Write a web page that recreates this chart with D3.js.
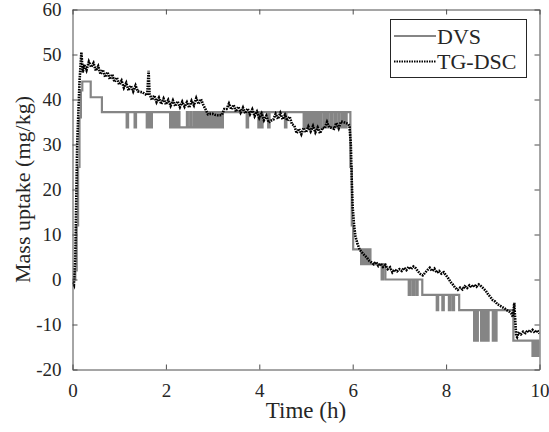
<!DOCTYPE html>
<html lang="en">
<head>
    <meta charset="utf-8">
    <script src='https://d3js.org/d3.v7.min.js'></script>
</head>
<style>
body { margin: 0; background: #fff; }
text { font-family: "Liberation Serif", serif; fill: #262626; }
</style>
<body>
<script>
// Chart size and plot box
const width = 549, height = 432;
const plot = {left: 72.5, right: 539.5, top: 9.5, bottom: 369.5};

// Tick values
const xTicks = [0, 2, 4, 6, 8, 10];
const yTicks = [-20, -10, 0, 10, 20, 30, 40, 50, 60];

// DVS (step series): change times (h) and mass uptake (mg/kg)
const dvsTime = [0, 0.06, 0.09, 0.12, 0.15, 0.18, 0.21, 0.39, 0.63,
  1.16, 1.19, 1.33, 1.36,
  1.59, 1.61, 1.62, 1.64, 1.65, 1.67, 1.68, 1.70,
  2.09, 2.11, 2.13, 2.15, 2.17, 2.19, 2.21, 2.23, 2.25, 2.27, 2.29,
  2.45, 2.47, 2.52, 2.55, 2.60, 2.62, 2.66, 2.68, 2.72, 2.74, 2.78, 2.80, 2.83, 2.85,
  2.88, 2.90, 2.93, 2.95, 2.98, 3.00, 3.04, 3.06, 3.10, 3.12, 3.16, 3.18, 3.22,
  3.73, 3.76, 3.98, 4.00, 4.03, 4.07, 4.19, 4.22, 4.55, 4.58,
  4.95, 4.98, 5.02, 5.05, 5.09, 5.12, 5.16, 5.19, 5.23, 5.26, 5.30, 5.33, 5.38, 5.41,
  5.45, 5.48, 5.53, 5.56, 5.61, 5.64, 5.69, 5.72, 5.77, 5.80, 5.84, 5.87,
  5.95, 5.98, 6.01,
  6.18, 6.21, 6.25, 6.28, 6.31, 6.34, 6.38, 6.62, 6.65, 6.70,
  7.20, 7.23, 7.28, 7.31, 7.36, 7.39, 7.49,
  7.80, 7.83, 7.92, 7.95, 8.06, 8.09, 8.14, 8.17, 8.28,
  8.60, 8.63, 8.66, 8.68, 8.75, 8.78, 8.81, 8.84, 8.88, 8.91, 9.00, 9.03, 9.05, 9.08,
  9.44, 9.85, 9.87, 9.90, 9.92, 9.96, 9.98, 10];
const dvsMass = [0, 2, 12, 25, 36, 42, 44, 40.5, 37.2,
  33.8, 37.2, 33.8, 37.2,
  33.8, 37.2, 33.8, 37.2, 33.8, 37.2, 33.8, 37.2,
  33.8, 37.2, 33.8, 37.2, 33.8, 37.2, 33.8, 37.2, 33.8, 37.2, 33.8,
  37.2, 33.8, 37.2, 33.8, 37.2, 33.8, 37.2, 33.8, 37.2, 33.8, 37.2, 33.8, 37.2, 33.8,
  37.2, 33.8, 37.2, 33.8, 37.2, 33.8, 37.2, 33.8, 37.2, 33.8, 37.2, 33.8, 37.2,
  33.8, 37.2, 33.8, 37.2, 33.8, 37.2, 33.8, 37.2, 33.8, 37.2,
  33.8, 37.2, 33.8, 37.2, 33.8, 37.2, 33.8, 37.2, 33.8, 37.2, 33.8, 37.2, 33.8, 37.2,
  33.8, 37.2, 33.8, 37.2, 33.8, 37.2, 33.8, 37.2, 33.8, 37.2, 33.8, 37.2,
  25, 12, 6.7,
  3.4, 6.7, 3.4, 6.7, 3.4, 6.7, 3.4, 0, 3.4, 0,
  -3.4, 0, -3.4, 0, -3.4, 0, -3.4,
  -6.8, -3.4, -6.8, -3.4, -6.8, -3.4, -6.8, -3.4, -6.8,
  -13.6, -6.8, -13.6, -6.8, -13.6, -6.8, -13.6, -6.8, -13.6, -6.8, -13.6, -6.8, -13.6, -6.8,
  -13.6, -17, -13.6, -17, -13.6, -17, -13.6, -13.6];

// TG-DSC: time (h) and mass uptake (mg/kg)
const tgTime = [0.00, 0.03, 0.06, 0.10, 0.15, 0.19, 0.22, 0.25, 0.30, 0.35, 0.40, 0.45, 0.50, 0.55,
  0.60, 0.65, 0.70, 0.75, 0.80, 0.85, 0.90, 0.95, 1.00, 1.05, 1.10, 1.15, 1.20, 1.25, 1.30,
  1.35, 1.40, 1.45, 1.50, 1.55, 1.60, 1.63, 1.65, 1.70, 1.75, 1.80, 1.85, 1.90, 1.95, 2.00,
  2.05, 2.10, 2.15, 2.20, 2.25, 2.30, 2.35, 2.40, 2.45, 2.50, 2.55, 2.60, 2.65, 2.70, 2.75,
  2.80, 2.85, 2.90, 2.95, 3.00, 3.05, 3.10, 3.15, 3.20, 3.25, 3.30, 3.35, 3.40, 3.45, 3.50,
  3.55, 3.60, 3.65, 3.70, 3.75, 3.80, 3.85, 3.90, 3.95, 4.00, 4.05, 4.10, 4.15, 4.20, 4.25,
  4.30, 4.35, 4.40, 4.45, 4.50, 4.55, 4.60, 4.65, 4.70, 4.75, 4.80, 4.85, 4.90, 4.95, 5.00,
  5.05, 5.10, 5.15, 5.20, 5.25, 5.30, 5.35, 5.40, 5.45, 5.50, 5.55, 5.60, 5.65, 5.70, 5.75,
  5.80, 5.85, 5.90, 5.93, 5.96, 5.98, 6.00, 6.03, 6.06, 6.10, 6.15, 6.20, 6.25, 6.30, 6.35,
  6.40, 6.45, 6.50, 6.55, 6.60, 6.65, 6.70, 6.75, 6.80, 6.85, 6.90, 6.95, 7.00, 7.05, 7.10,
  7.15, 7.20, 7.25, 7.30, 7.35, 7.40, 7.45, 7.50, 7.55, 7.60, 7.65, 7.70, 7.75, 7.80, 7.85,
  7.90, 7.95, 8.00, 8.05, 8.10, 8.15, 8.20, 8.25, 8.30, 8.35, 8.40, 8.45, 8.50, 8.55, 8.60,
  8.65, 8.70, 8.75, 8.80, 8.85, 8.90, 8.95, 9.00, 9.05, 9.10, 9.15, 9.20, 9.25, 9.30, 9.35,
  9.40, 9.43, 9.46, 9.48, 9.50, 9.52, 9.55, 9.60, 9.65, 9.70, 9.75, 9.80, 9.85, 9.90, 9.95, 10.00];
const tgMass = [-0.6, -1.2, 5, 30, 44, 50.5, 46, 47.8, 46.5, 48.4, 47.2, 48.1, 46.4, 47.4,
  45.6, 46.6, 45.0, 46.1, 44.5, 45.6, 43.9, 44.9, 43.3, 44.2, 42.6, 43.7, 42.0, 43.1, 41.8,
  43.1, 41.8, 41.7, 41.6, 41.2, 41.0, 46.4, 41.3, 39.9, 40.9, 39.4, 40.4, 39.0, 40.2, 38.9,
  39.9, 38.6, 39.8, 38.5, 39.6, 38.3, 39.5, 38.4, 39.4, 38.2, 39.7, 38.7, 40.3, 39.0, 40.1,
  38.8, 37.8, 36.7, 36.8, 36.8, 36.6, 36.5, 36.5, 36.6, 37.9, 37.9, 39.1, 37.8, 38.8, 37.3,
  38.4, 37.1, 38.2, 36.9, 38.0, 36.7, 37.8, 36.3, 37.3, 35.9, 36.9, 35.4, 36.4, 34.9, 35.3,
  35.5, 36.8, 35.7, 37.0, 35.6, 36.6, 35.3, 36.2, 34.5, 34.2, 32.5, 33.5, 32.3, 33.7, 32.7,
  34.0, 32.9, 34.1, 32.7, 33.8, 32.5, 33.7, 33.6, 35.0, 33.8, 33.7, 33.5, 34.8, 33.6, 35.1,
  35.0, 34.8, 34.6, 34.2, 30, 22, 16, 12, 9.5, 8, 6.6, 6.0, 5.4, 4.9, 4.2,
  3.8, 3.4, 3.9, 3.0, 3.5, 2.8, 3.2, 2.3, 2.7, 1.6, 2.2, 1.8, 2.3, 1.9, 2.6,
  2.1, 2.8, 2.3, 2.9, 2.5, 1.8, 1.2, 0.9, 1.5, 2.1, 2.6, 1.9, 2.4, 1.5, 1.9,
  1.3, 1.6, 0.9, 0.2, -0.6, -1.2, -1.9, -2.3, -1.8, -2.2, -1.5, -1.9, -1.3, -1.7, -1.2,
  -1.6, -1.1, -1.5, -2.0, -2.5, -3.3, -3.9, -4.6, -4.9, -5.5, -5.8, -6.1, -6.4, -6.8, -7.1,
  -7.6, -8.3, -5.2, -9, -12.5, -12.8, -11.9, -12.2, -11.6, -11.9, -11.3, -11.7, -11.2, -11.8, -11.3, -12.0];

// Legend entries
const legendNames = ["DVS", "TG-DSC"];

const svg = d3.select("body")
  .append("svg")
  .attr("width", width)
  .attr("height", height);

svg.append("rect").attr("width", width).attr("height", height).attr("fill", "#fff");

const x = d3.scaleLinear().domain([0, 10]).range([plot.left, plot.right]);
const y = d3.scaleLinear().domain([-20, 60]).range([plot.bottom, plot.top]);

svg.append("clipPath").attr("id", "clip")
  .append("rect")
  .attr("x", plot.left).attr("y", plot.top)
  .attr("width", plot.right - plot.left).attr("height", plot.bottom - plot.top);

// Data lines
const dvs = dvsTime.map((t, i) => [t, dvsMass[i]]);
const tg = tgTime.map((t, i) => [t, tgMass[i]]);

svg.append("path")
  .datum(dvs)
  .attr("clip-path", "url(#clip)")
  .attr("fill", "none")
  .attr("stroke", "#858585")
  .attr("stroke-width", 2.2)
  .attr("d", d3.line().curve(d3.curveStepAfter).x(d => x(d[0])).y(d => y(d[1])));

svg.append("path")
  .datum(tg)
  .attr("clip-path", "url(#clip)")
  .attr("fill", "none")
  .attr("stroke", "#000")
  .attr("stroke-width", 2.6)
  .attr("stroke-dasharray", "1.6,1")
  .attr("d", d3.line().x(d => x(d[0])).y(d => y(d[1])));

// Axes, MATLAB box style with inward ticks
const axisColor = "#4d4d4d";
const tickLen = 5;
const fmt = d => String(d);

const bottomAxis = svg.append("g")
  .attr("transform", `translate(0,${plot.bottom})`)
  .call(d3.axisBottom(x).tickValues(xTicks).tickFormat(fmt).tickSizeInner(-tickLen).tickSizeOuter(0).tickPadding(17));
const topAxis = svg.append("g")
  .attr("transform", `translate(0,${plot.top})`)
  .call(d3.axisTop(x).tickValues(xTicks).tickSizeInner(-tickLen).tickSizeOuter(0).tickFormat(""));
const leftAxis = svg.append("g")
  .attr("transform", `translate(${plot.left},0)`)
  .call(d3.axisLeft(y).tickValues(yTicks).tickFormat(fmt).tickSizeInner(-tickLen).tickSizeOuter(0).tickPadding(14));
const rightAxis = svg.append("g")
  .attr("transform", `translate(${plot.right},0)`)
  .call(d3.axisRight(y).tickValues(yTicks).tickSizeInner(-tickLen).tickSizeOuter(0).tickFormat(""));

[bottomAxis, topAxis, leftAxis, rightAxis].forEach(g => {
  g.select(".domain").attr("stroke", axisColor);
  g.selectAll(".tick line").attr("stroke", axisColor);
  g.selectAll(".tick text")
    .attr("fill", "#262626")
    .style("font-family", "'Liberation Serif', serif")
    .style("font-size", "19px");
});
bottomAxis.selectAll(".tick text").attr("dy", "0.55em");
leftAxis.selectAll(".tick text").attr("dx", "3px");

// Axis titles
svg.append("text")
  .attr("x", (plot.left + plot.right) / 2)
  .attr("y", 418)
  .attr("text-anchor", "middle")
  .style("font-size", "23px")
  .text("Time (h)");

svg.append("text")
  .attr("transform", `translate(30,${(plot.top + plot.bottom) / 2}) rotate(-90)`)
  .attr("text-anchor", "middle")
  .style("font-size", "22px")
  .text("Mass uptake (mg/kg)");

// Legend
const legend = svg.append("g");
legend.append("rect")
  .attr("x", 390.5).attr("y", 19.5)
  .attr("width", 136).attr("height", 58)
  .attr("fill", "#fff")
  .attr("stroke", "#262626")
  .attr("stroke-width", 1);

legendNames.forEach((name, i) => {
  const ly = 36 + i * 25.5;
  legend.append("line")
    .attr("x1", 394).attr("x2", 436)
    .attr("y1", ly).attr("y2", ly)
    .attr("stroke", i === 0 ? "#858585" : "#000")
    .attr("stroke-width", i === 0 ? 2.2 : 2)
    .attr("stroke-dasharray", i === 0 ? null : "1.5,1");
  legend.append("text")
    .attr("x", 437)
    .attr("y", ly + 7.5)
    .style("font-size", "22px")
    .text(name);
});
</script>
</body>
</html>
